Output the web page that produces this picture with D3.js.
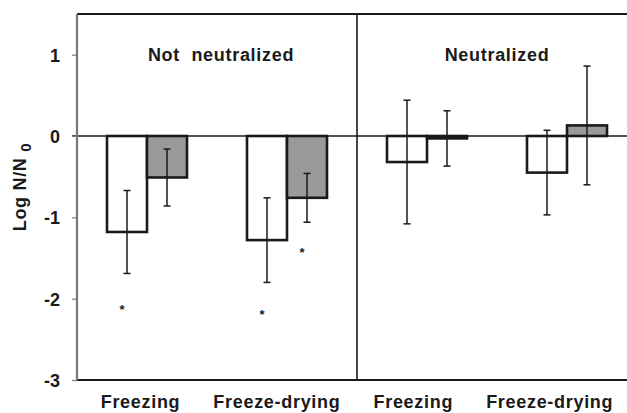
<!DOCTYPE html>
<html>
<head>
<meta charset="utf-8">
<script src="https://cdn.jsdelivr.net/npm/d3@7"></script>
<style>
  html, body { margin: 0; padding: 0; background: #fff; }
  text { font-family: "Liberation Sans", Arial, Helvetica, sans-serif; font-weight: bold; fill: #1a1a1a; }
</style>
</head>
<body>
<svg id="chart" width="627" height="413"></svg>
<script>
// Treatment groups along the x axis
const categories = ["Freezing", "Freeze-drying", "Freezing ", "Freeze-drying "];
const categoryLabels = ["Freezing", "Freeze-drying", "Freezing", "Freeze-drying"];
// Mean log reduction and error (±) for each series
const whiteValues = [-1.18, -1.28, -0.32, -0.45];
const whiteErrors = [0.51, 0.52, 0.76, 0.52];
const grayValues = [-0.51, -0.76, -0.03, 0.13];
const grayErrors = [0.35, 0.30, 0.34, 0.73];
// Significance markers: [category index, series, y value]
const stars = [[0, "white", -2.11], [1, "white", -2.18], [1, "gray", -1.42]];
const yTicks = [1, 0, -1, -2, -3];
const panelTitles = ["Not  neutralized", "Neutralized"];

const svg = d3.select("#chart");
const plotLeft = 77, plotTop = 14, plotBottom = 380, plotRightFull = 637, plotRight = 627;
const fontSize = 18, spacing = 0.7;

const x = d3.scaleBand().domain(categories).range([plotLeft, plotRightFull]).padding(0);
const y = d3.scaleLinear().domain([-3, 1.5]).range([plotBottom, plotTop]);
const barW = 40;

// Bars: white series on the left of each band centre, gray on the right
function drawSeries(values, fill, offset) {
  const g = svg.append("g");
  values.forEach((v, i) => {
    const cx = x(categories[i]) + x.bandwidth() / 2;
    g.append("rect")
      .attr("x", cx + offset)
      .attr("y", y(Math.max(0, v)))
      .attr("width", barW)
      .attr("height", Math.abs(y(v) - y(0)))
      .attr("fill", fill)
      .attr("stroke", "#1a1a1a")
      .attr("stroke-width", 2.6);
  });
}
function drawErrors(values, errors, offset) {
  const g = svg.append("g").attr("stroke", "#1a1a1a").attr("stroke-width", 1.5);
  values.forEach((v, i) => {
    const cx = x(categories[i]) + x.bandwidth() / 2 + offset + barW / 2;
    const hi = y(v + errors[i]), lo = y(v - errors[i]);
    g.append("line").attr("x1", cx).attr("x2", cx).attr("y1", hi).attr("y2", lo);
    g.append("line").attr("x1", cx - 3.5).attr("x2", cx + 3.5).attr("y1", hi).attr("y2", hi);
    g.append("line").attr("x1", cx - 3.5).attr("x2", cx + 3.5).attr("y1", lo).attr("y2", lo);
  });
}

drawSeries(whiteValues, "#ffffff", -barW);
drawSeries(grayValues, "#9a9a9c", 0);

// Zero line
svg.append("line")
  .attr("x1", plotLeft - 5).attr("x2", plotRight)
  .attr("y1", y(0)).attr("y2", y(0))
  .attr("stroke", "#1a1a1a").attr("stroke-width", 1.6);

drawErrors(whiteValues, whiteErrors, -barW);
drawErrors(grayValues, grayErrors, 0);

// Frame: top and bottom borders, panel divider
svg.append("line").attr("x1", plotLeft).attr("x2", plotRight).attr("y1", plotTop).attr("y2", plotTop)
  .attr("stroke", "#1a1a1a").attr("stroke-width", 2);
svg.append("line").attr("x1", plotLeft).attr("x2", plotRight).attr("y1", plotBottom).attr("y2", plotBottom)
  .attr("stroke", "#1a1a1a").attr("stroke-width", 2);
const divX = (x(categories[1]) + x.bandwidth() + x(categories[2])) / 2;
svg.append("line").attr("x1", divX).attr("x2", divX).attr("y1", plotTop).attr("y2", plotBottom)
  .attr("stroke", "#1a1a1a").attr("stroke-width", 1.6);

// Left axis
const yAxis = d3.axisLeft(y).tickValues(yTicks).tickSize(5).tickPadding(12).tickFormat(d => String(d));
const ya = svg.append("g").attr("transform", `translate(${plotLeft},0)`).call(yAxis);
ya.select(".domain").attr("stroke", "#777").attr("stroke-width", 2.2)
  .attr("d", `M0,${plotTop}V${plotBottom}`);
ya.selectAll(".tick line").attr("stroke", "#777").attr("stroke-width", 1.2);
ya.selectAll(".tick text")
  .attr("font-size", fontSize).attr("font-family", "Liberation Sans, Arial, sans-serif")
  .attr("font-weight", "bold").attr("fill", "#1a1a1a").attr("dy", "0.36em");

// Y axis title with subscript
const yt = svg.append("text")
  .attr("transform", `translate(26,187) rotate(-90)`)
  .attr("text-anchor", "middle")
  .attr("font-size", fontSize)
  .attr("letter-spacing", spacing);
yt.append("tspan").text("Log N/N ");
yt.append("tspan").attr("dy", 5).attr("font-size", 15).text("0");

// Category labels
categoryLabels.forEach((t, i) => {
  svg.append("text")
    .attr("x", x(categories[i]) + x.bandwidth() / 2 - 6.5 - i * 3.6)
    .attr("y", 408)
    .attr("text-anchor", "middle")
    .attr("font-size", fontSize)
    .attr("letter-spacing", spacing)
    .text(t);
});

// Panel titles
panelTitles.forEach((t, i) => {
  const c0 = x(categories[i * 2]) + x.bandwidth() / 2;
  const c1 = x(categories[i * 2 + 1]) + x.bandwidth() / 2;
  svg.append("text")
    .attr("x", (c0 + c1) / 2 + (i === 0 ? 4 : 0))
    .attr("y", 61)
    .attr("text-anchor", "middle")
    .attr("font-size", fontSize)
    .attr("letter-spacing", spacing)
    .style("white-space", "pre")
    .text(t);
});

// Significance stars
stars.forEach(([i, s, v]) => {
  const cx = x(categories[i]) + x.bandwidth() / 2 + (s === "white" ? -barW : 0) + barW / 2 - 5;
  svg.append("text")
    .attr("x", cx).attr("y", y(v) + 6)
    .attr("text-anchor", "middle")
    .attr("font-size", 13)
    .attr("font-weight", "normal")
    .text("*");
});
</script>
</body>
</html>
